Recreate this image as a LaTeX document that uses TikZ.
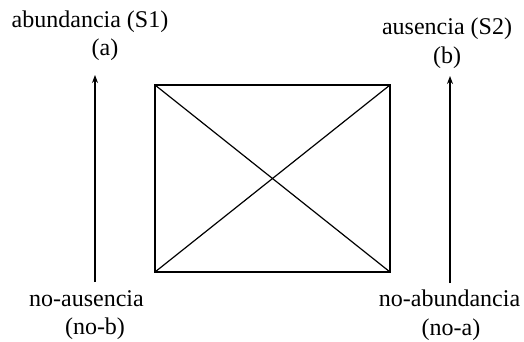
\documentclass[tikz,border=0pt]{standalone}
\usepackage{fontspec}
\setmainfont{Liberation Serif}
\usetikzlibrary{arrows.meta, positioning}

\begin{document}
\begin{tikzpicture}[x=0.5pt, y=-0.5pt, line width=0.6pt,
		lbl/.style={anchor=base, inner sep=0pt, font=\fontsize{12}{14}\selectfont},
		upline/.style={-{Stealth[length=4pt, width=3pt]}}]
		\useasboundingbox (0,0) rectangle (524,342);
		% Corners of the square
		\coordinate (tl) at (155,85);
		\coordinate (tr) at (390,85);
		\coordinate (bl) at (155,272);
		\coordinate (br) at (390,272);
		% Draw square and diagonals
		\draw (tl) rectangle (br);
		\draw (tl) -- (br);
		\draw (bl) -- (tr);
		% Draw arrows
		\coordinate (lbot) at (95,282);
		\coordinate (ltop) at (95,75);
		\coordinate (rbot) at (450,283);
		\coordinate (rtop) at (450,76);
		\draw[upline] (lbot) -- (ltop);
		\draw[upline] (rbot) -- (rtop);
		% Labels top
		\node[lbl] (s1) at (90,28) {abundancia (S1)};
		\node[lbl] (a) at (105,56) {(a)};
		\node[lbl] (s2) at (447,35) {ausencia (S2)};
		\node[lbl] (b) at (447,64) {(b)};
		% Labels bottom
		\node[lbl] (nob1) at (86.5,306) {no-ausencia};
		\node[lbl] (nob2) at (95,334) {(no-b)};
		\node[lbl] (noa1) at (449.5,306) {no-abundancia};
		\node[lbl] (noa2) at (451,335) {(no-a)};
	\end{tikzpicture}
\end{document}
